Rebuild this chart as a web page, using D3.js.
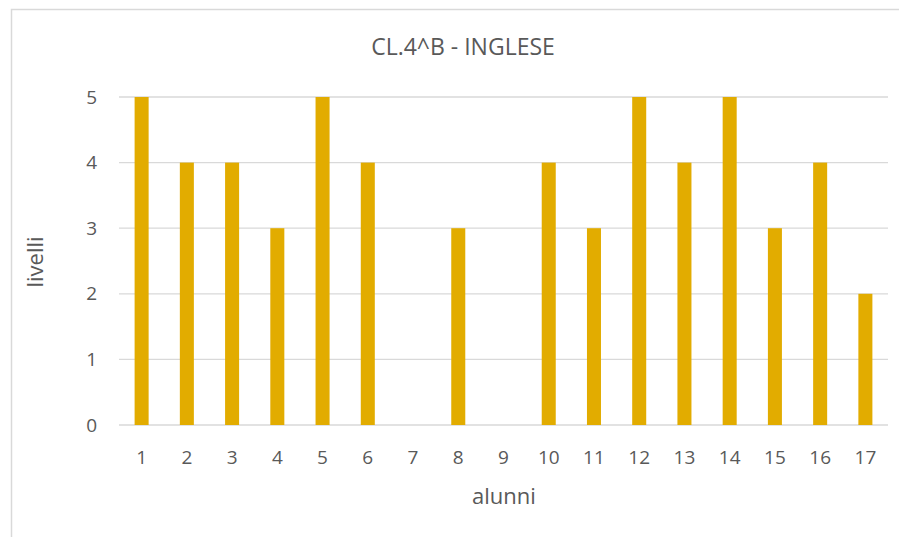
<!DOCTYPE html>
<html>
<head>
<meta charset="utf-8">
<script src="https://cdn.jsdelivr.net/npm/d3@7"></script>
<style>
  body { margin: 0; background: #fff; }
  text { font-family: "Open Sans", "Liberation Sans", sans-serif; fill: #595959; }
</style>
</head>
<body>
<svg class="barchart" width="899" height="537"></svg>
<script>
// dati
var alunni = ["1","2","3","4","5","6","7","8","9","10","11","12","13","14","15","16","17"];
var livelli = [5, 4, 4, 3, 5, 4, null, 3, null, 4, 3, 5, 4, 5, 3, 4, 2];
var yTicks = [0, 1, 2, 3, 4, 5];

var svg = d3.select(".barchart"),
  plotLeft = 119, plotRight = 888, plotTop = 97, plotBottom = 425;

// cornice dell'area grafico
svg.append("rect")
  .attr("x", 11.5).attr("y", 9.5)
  .attr("width", 905).attr("height", 540)
  .attr("fill", "none").attr("stroke", "#d9d9d9").attr("stroke-width", 1.5);

var xScale = d3.scaleBand().domain(alunni).range([plotLeft, plotRight]).paddingInner(0.69).paddingOuter(0.345),
  yScale = d3.scaleLinear().domain([0, 5]).range([plotBottom, plotTop]);

// griglia
svg.append("g")
  .selectAll("line")
  .data(yTicks)
  .join("line")
  .attr("x1", plotLeft).attr("x2", plotRight)
  .attr("y1", d => yScale(d)).attr("y2", d => yScale(d))
  .attr("stroke", "#d9d9d9").attr("stroke-width", 1.3);

svg.append("g")
  .selectAll("rect")
  .data(livelli.map((v, i) => ({ k: alunni[i], v: v })).filter(d => d.v != null))
  .join("rect")
  .attr("x", d => xScale(d.k))
  .attr("width", xScale.bandwidth())
  .attr("y", d => yScale(d.v))
  .attr("height", d => yScale(0) - yScale(d.v))
  .attr("fill", "#e2ac00");

// asse x
var gx = svg.append("g")
  .attr("transform", "translate(0," + (plotBottom + 32) + ")")
  .call(d3.axisBottom(xScale).tickSize(0).tickPadding(0));
gx.select(".domain").remove();
gx.selectAll("text").attr("font-size", 19).attr("dy", "0.35em").attr("fill", "#595959");

// asse y
var gy = svg.append("g")
  .attr("transform", "translate(97,0)")
  .call(d3.axisLeft(yScale).tickValues(yTicks).tickFormat(d3.format("d")).tickSize(0).tickPadding(0));
gy.select(".domain").remove();
gy.selectAll("text").attr("font-size", 19).attr("fill", "#595959");

svg.append("text")
  .attr("x", 463).attr("y", 47)
  .attr("text-anchor", "middle").attr("dy", "0.35em")
  .attr("font-size", 23)
  .text("CL.4^B - INGLESE");

svg.append("text")
  .attr("x", 504).attr("y", 496)
  .attr("text-anchor", "middle").attr("dy", "0.35em")
  .attr("font-size", 22)
  .text("alunni");

svg.append("text")
  .attr("transform", "translate(35,262) rotate(-90)")
  .attr("text-anchor", "middle").attr("dy", "0.35em")
  .attr("font-size", 22)
  .text("livelli");
</script>
</body>
</html>
